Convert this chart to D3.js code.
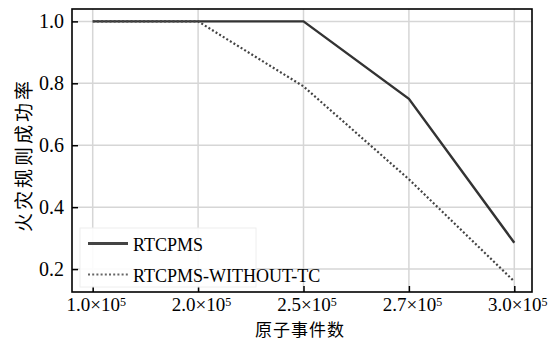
<!DOCTYPE html>
<html>
<head>
<meta charset="utf-8">
<script src="https://cdn.jsdelivr.net/npm/d3@7"></script>
<style>
  body { margin: 0; background: #fff; }
  svg { display: block; }
</style>
</head>
<body>
<svg width="549" height="340"></svg>
<script>
const categories = ['1.0', '2.0', '2.5', '2.7', '3.0']
const rtcpms = [1.0, 1.0, 1.0, 0.75, 0.285]
const withoutTc = [1.0, 1.0, 0.79, 0.49, 0.16]
const yTicks = [0.2, 0.4, 0.6, 0.8, 1.0]
const seriesNames = ['RTCPMS', 'RTCPMS-WITHOUT-TC']

const svg = d3.select('svg')
const box = {left: 72, right: 532, top: 9, bottom: 292}
const serif = '"Liberation Serif", "Times New Roman", serif'
const cjk = '"Noto Sans CJK SC", sans-serif'

const x = d3.scalePoint().domain(categories).range([92.7, 514.3])
const y = d3.scaleLinear().domain([0.126, 1.04]).range([box.bottom, box.top])

// grid
const grid = svg.append('g').attr('stroke', '#d6d6d6').attr('stroke-width', 1.5)
grid.selectAll('.gx').data(categories).enter().append('line')
  .attr('x1', d => x(d)).attr('x2', d => x(d))
  .attr('y1', box.top).attr('y2', box.bottom)
grid.selectAll('.gy').data(yTicks).enter().append('line')
  .attr('x1', box.left).attr('x2', box.right)
  .attr('y1', d => y(d)).attr('y2', d => y(d))

// lines
const line = d3.line().x((d, i) => x(categories[i])).y(d => y(d))
svg.append('path').datum(rtcpms)
  .attr('d', line).attr('fill', 'none')
  .attr('stroke', '#333').attr('stroke-width', 2.4)
svg.append('path').datum(withoutTc)
  .attr('d', line).attr('fill', 'none')
  .attr('stroke', '#444').attr('stroke-width', 2.2)
  .attr('stroke-dasharray', '2,2.2')

// axes
const xAxis = svg.append('g')
  .attr('transform', 'translate(0,' + box.bottom + ')')
  .call(d3.axisBottom(x).tickSizeInner(-6).tickSizeOuter(0).tickPadding(6).tickFormat(() => ''))
xAxis.selectAll('.tick text').each(function (d) {
  const t = d3.select(this)
  t.append('tspan').text(d + '×10')
  t.append('tspan').text('5').attr('dy', '-0.45em').style('font-size', '12px')
})
xAxis.select('.domain').remove()

const yAxis = svg.append('g')
  .attr('transform', 'translate(' + box.left + ',0)')
  .call(d3.axisLeft(y).tickValues(yTicks).tickSizeInner(-6).tickSizeOuter(0).tickPadding(8).tickFormat(d3.format('.1f')))
yAxis.select('.domain').remove()
svg.selectAll('.tick line').attr('stroke', '#000').attr('stroke-width', 1.5)
svg.selectAll('.tick text')
  .style('font-family', serif).style('font-size', '20px').attr('fill', '#000')
xAxis.selectAll('.tick text').style('font-size', '19px').attr('dx', '3px')

svg.append('rect')
  .attr('x', box.left).attr('y', box.top)
  .attr('width', box.right - box.left).attr('height', box.bottom - box.top)
  .attr('fill', 'none').attr('stroke', '#000').attr('stroke-width', 1.6)

// legend
const legend = svg.append('g')
legend.append('rect')
  .attr('x', 80).attr('y', 228).attr('width', 176).attr('height', 59)
  .attr('fill', '#fff').attr('fill-opacity', 0.9)
  .attr('stroke', '#eee').attr('stroke-width', 1)
seriesNames.forEach((name, i) => {
  const ly = 243.5 + i * 31
  legend.append('line')
    .attr('x1', 88).attr('x2', 128).attr('y1', ly).attr('y2', ly)
    .attr('stroke', i === 0 ? '#444' : '#666').attr('stroke-width', i === 0 ? 3 : 2.2)
    .attr('stroke-dasharray', i === 0 ? null : '2,2.2')
  legend.append('text')
    .attr('x', 133).attr('y', ly + 7)
    .style('font-family', serif).style('font-size', '18px')
    .text(name)
})

// titles
svg.append('text')
  .attr('x', 300).attr('y', 335.5).attr('text-anchor', 'middle')
  .style('font-family', cjk).style('font-size', '17px').style('letter-spacing', '1px')
  .text('原子事件数')
svg.append('text')
  .attr('transform', 'translate(31,155) rotate(-90)').attr('text-anchor', 'middle')
  .style('font-family', cjk).style('font-size', '19px').style('letter-spacing', '3px')
  .text('火灾规则成功率')
</script>
</body>
</html>
